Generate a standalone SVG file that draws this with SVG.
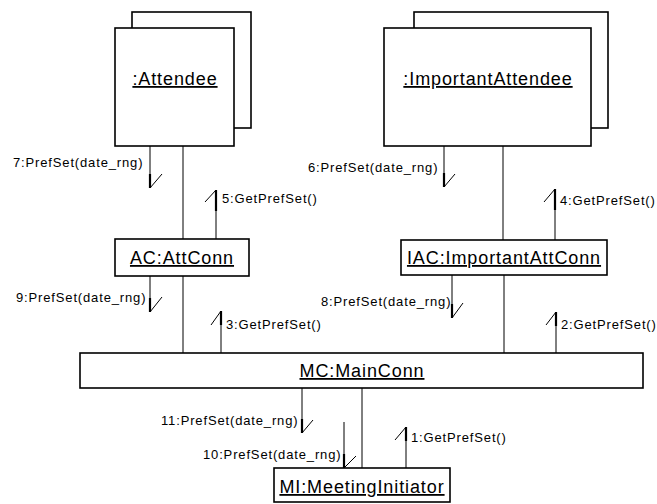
<svg xmlns="http://www.w3.org/2000/svg" width="657" height="504" viewBox="0 0 657 504">
<style>
.box{fill:#fff;stroke:#000;stroke-width:1.6}
.lnk{stroke:#000;stroke-width:1;fill:none}
.thk{stroke:#000;stroke-width:2.2;fill:none}
.nm{font-family:"Liberation Sans",Arial,sans-serif;font-size:18px;font-weight:normal;letter-spacing:0.9px;text-anchor:middle;text-decoration:underline}
.lb{font-family:"Liberation Sans",Arial,sans-serif;font-size:13px;font-weight:normal;letter-spacing:0.85px}
</style>
<rect width="657" height="504" fill="#fff"/>
<g id="attendee">
<rect class="box" x="132" y="12" width="119" height="116"/>
<rect class="box" x="115" y="28" width="119" height="118"/>
<text class="nm" x="175" y="85">:Attendee</text>
</g>
<g id="importantAttendee">
<rect class="box" x="414" y="12" width="194" height="116"/>
<rect class="box" x="384" y="28" width="207" height="118"/>
<text class="nm" x="488" y="85">:ImportantAttendee</text>
</g>
<g id="attConn">
<rect class="box" x="115" y="239" width="134" height="37"/>
<text class="nm" x="182" y="264">AC:AttConn</text>
</g>
<g id="importantAttConn">
<rect class="box" x="401" y="240" width="206" height="35"/>
<text class="nm" x="504" y="264">IAC:ImportantAttConn</text>
</g>
<g id="mainConn">
<rect class="box" x="80" y="353" width="563" height="35"/>
<text class="nm" x="362" y="377">MC:MainConn</text>
</g>
<g id="meetingInitiator">
<rect class="box" x="274" y="468" width="176" height="34"/>
<text class="nm" x="362" y="493">MI:MeetingInitiator</text>
</g>
<g id="connectors">
<line class="lnk" x1="183" y1="146" x2="183" y2="239"/>
<line class="lnk" x1="503" y1="146" x2="503" y2="240"/>
<line class="lnk" x1="183" y1="276" x2="183" y2="353"/>
<line class="lnk" x1="504" y1="275" x2="504" y2="353"/>
<line class="lnk" x1="362" y1="388" x2="362" y2="468"/>
<path class="lnk" d="M150 146V188L162 174"/><path class="thk" d="M150 174V188"/>
<path class="lnk" d="M444 146V187L455 174"/><path class="thk" d="M444 173V187"/>
<path class="lnk" d="M150 276V312L162 297"/><path class="thk" d="M150 298V312"/>
<path class="lnk" d="M452 275V318L463 303"/><path class="thk" d="M452 304V318"/>
<path class="lnk" d="M302 388V433L313 420"/><path class="thk" d="M302 419V433"/>
<path class="lnk" d="M344 422V468L356 456"/><path class="thk" d="M344 454V468"/>
<path class="lnk" d="M216 239V190L205 202"/><path class="thk" d="M216 190V211"/>
<path class="lnk" d="M555 240V189L544 202"/><path class="thk" d="M555 189V210"/>
<path class="lnk" d="M221 353V311L211 325"/><path class="thk" d="M221 311V325"/>
<path class="lnk" d="M556 353V312L546 325"/><path class="thk" d="M556 312V326"/>
<path class="lnk" d="M406 468V427L395 440"/><path class="thk" d="M406 427V441"/>
</g>
<g id="labels">
<text class="lb" x="13" y="167">7:PrefSet(date_rng)</text>
<text class="lb" x="222" y="203">5:GetPrefSet()</text>
<text class="lb" x="308" y="172">6:PrefSet(date_rng)</text>
<text class="lb" x="560" y="205">4:GetPrefSet()</text>
<text class="lb" x="16" y="302">9:PrefSet(date_rng)</text>
<text class="lb" x="226" y="329">3:GetPrefSet()</text>
<text class="lb" x="321" y="306">8:PrefSet(date_rng)</text>
<text class="lb" x="561" y="329">2:GetPrefSet()</text>
<text class="lb" x="161" y="425">11:PrefSet(date_rng)</text>
<text class="lb" x="203" y="459">10:PrefSet(date_rng)</text>
<text class="lb" x="411" y="442">1:GetPrefSet()</text>
</g>
</svg>
